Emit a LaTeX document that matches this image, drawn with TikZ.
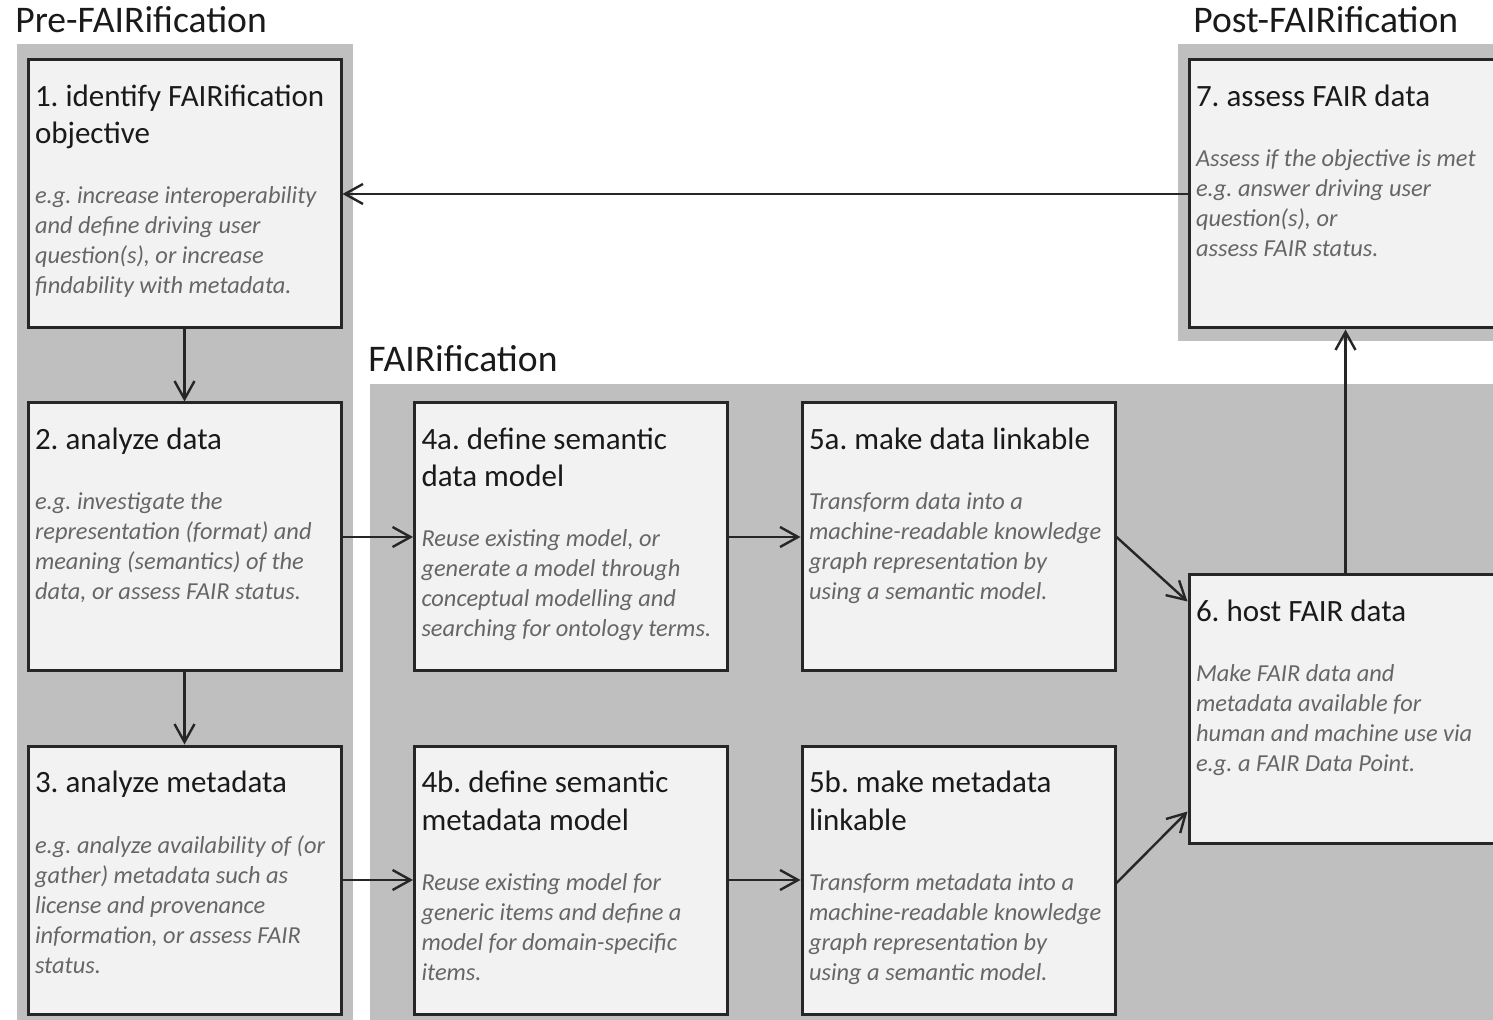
\documentclass[tikz,border=0pt]{standalone}
\usepackage{fontspec}
\setmainfont{Carlito}
\usepackage{xcolor}
\usepackage{tikz}
\usetikzlibrary{arrows.meta}
\frenchspacing

\definecolor{panelgray}{HTML}{BFBFBF}
\definecolor{boxfill}{HTML}{F2F2F2}
\definecolor{boxline}{HTML}{262626}
\definecolor{titleink}{HTML}{1A1A1A}
\definecolor{descgray}{HTML}{666666}

% box text: title on top, grey italic description below
\newcommand{\stepbody}[2]{%
  \makebox[149.5pt][l]{\parbox[t][134pt][t]{190pt}{\raggedright
    {\fontsize{15.5}{18.5}\selectfont\color{titleink}\rule{0pt}{23.5pt}#1\par}
    \vspace{15pt}
    {\fontsize{12.2}{15}\selectfont\itshape\color{descgray}#2\par}}}}

\begin{document}
\begin{tikzpicture}[x=0.5pt, y=-0.5pt,
    stepbox/.style={draw=boxline, line width=1.5pt, fill=boxfill, rectangle,
      inner xsep=3.5pt, inner ysep=0pt, minimum width=156.5pt, minimum height=134pt},
    phase/.style={anchor=base west, inner sep=0pt, font=\fontsize{18.8}{22}\selectfont, text=titleink},
    flow/.style={draw=boxline, line width=1.2pt, -{Straight Barb[length=9pt, width=10pt, line width=1.2pt]}}]
    \useasboundingbox (0,0) rectangle (1493,1020);
    \clip (0,0) rectangle (1493,1020);

    % Phase panels
    \fill[panelgray] (17,44) rectangle (353,1030);
    \fill[panelgray] (370,384) rectangle (1510,1030);
    \fill[panelgray] (1178,44) rectangle (1510,341);

    % Phase labels
    \node[phase] (prelabel) at (15,33) {Pre-FAIRification};
    \node[phase] (fairlabel) at (368,372) {FAIRification};
    \node[phase] (postlabel) at (1193,33) {Post-FAIRification};

    % Pre-FAIRification
    \node[stepbox] (objective) at (184.5,194) {\stepbody{1. identify FAIRification\\objective}
      {e.g. increase interoperability\\and define driving user\\question(s), or increase\\findability with metadata.}};
    \node[stepbox] (analyzedata) at (184.5,537) {\stepbody{2. analyze data}
      {e.g. investigate the\\representation (format) and\\meaning (semantics) of the\\data, or assess FAIR status.}};
    \node[stepbox] (analyzemeta) at (184.5,880) {\stepbody{3. analyze metadata}
      {e.g. analyze availability of (or\\gather) metadata such as\\license and provenance\\information, or assess FAIR\\status.}};

    % FAIRification
    \node[stepbox] (datamodel) at (571,537) {\stepbody{4a. define semantic\\data model}
      {Reuse existing model, or\\generate a model through\\conceptual modelling and\\searching for ontology terms.}};
    \node[stepbox] (metamodel) at (571,880) {\stepbody{4b. define semantic\\metadata model}
      {Reuse existing model for\\generic items and define a\\model for domain-specific\\items.}};
    \node[stepbox] (linkdata) at (958.5,537) {\stepbody{5a. make data linkable}
      {Transform data into a\\machine-readable knowledge\\graph representation by\\using a semantic model.}};
    \node[stepbox] (linkmeta) at (958.5,880) {\stepbody{5b. make metadata\\linkable}
      {Transform metadata into a\\machine-readable knowledge\\graph representation by\\using a semantic model.}};
    \node[stepbox] (host) at (1345.5,709) {\stepbody{6. host FAIR data}
      {Make FAIR data and\\metadata available for\\human and machine use via\\e.g. a FAIR Data Point.}};

    % Post-FAIRification
    \node[stepbox] (assess) at (1345.5,194) {\stepbody{7. assess FAIR data}
      {Assess if the objective is met\\e.g. answer driving user\\question(s), or\\assess FAIR status.}};

    % Arrows
    \draw[flow] (objective) -- (analyzedata);
    \draw[flow] (analyzedata) -- (analyzemeta);
    \draw[flow] (analyzedata) -- (datamodel);
    \draw[flow] (analyzemeta) -- (metamodel);
    \draw[flow] (datamodel) -- (linkdata);
    \draw[flow] (metamodel) -- (linkmeta);
    \draw[flow] (linkdata.east) -- ([yshift=-14pt]host.north west);
    \draw[flow] ([yshift=-1.5pt]linkmeta.east) -- ([yshift=16.5pt]host.south west);
    \draw[flow] (host) -- (assess);
    \draw[flow] (assess) -- (objective);
\end{tikzpicture}
\end{document}
